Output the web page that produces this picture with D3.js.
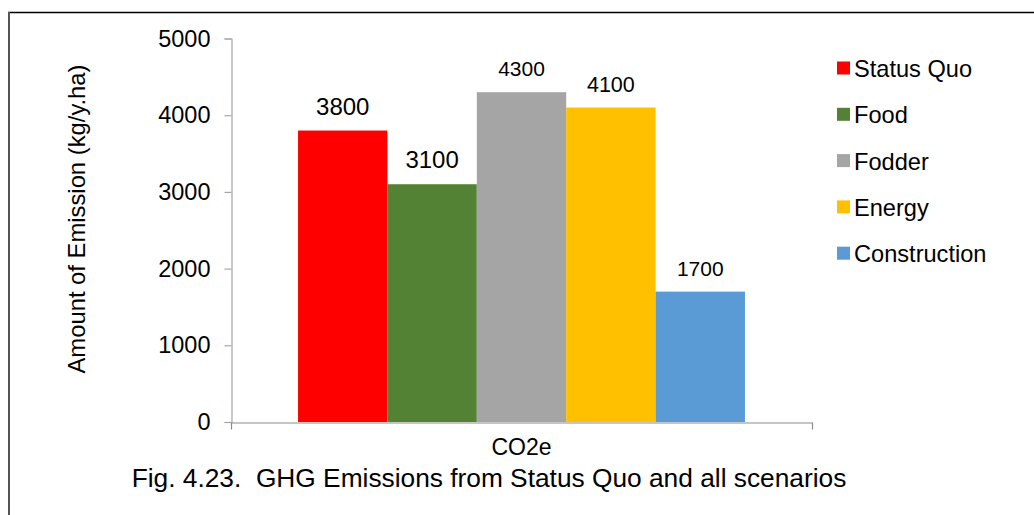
<!DOCTYPE html>
<html>
<head>
<meta charset="utf-8">
<script src="https://cdn.jsdelivr.net/npm/d3@7"></script>
<style>
  html, body { margin: 0; padding: 0; background: #fff; }
  svg { display: block; font-family: "Liberation Sans", Arial, sans-serif; }
  text { white-space: pre; }
</style>
</head>
<body>
<svg id="chart" width="1034" height="515"></svg>
<script>
const categories = ["CO2e"];
const seriesNames = ["Status Quo", "Food", "Fodder", "Energy", "Construction"];
const seriesValues = [3800, 3100, 4300, 4100, 1700];
const seriesColors = ["#FF0000", "#548235", "#A5A5A5", "#FFC000", "#5B9BD5"];
const labelSizes = [24, 24, 21, 21.5, 21];
const yTicks = [0, 1000, 2000, 3000, 4000, 5000];
const yTitle = "Amount of Emission (kg/y.ha)";
const caption = "Fig. 4.23.  GHG Emissions from Status Quo and all scenarios";

const svg = d3.select("#chart");

// frame
svg.append("line").attr("x1", 8).attr("x2", 1034).attr("y1", 12.5).attr("y2", 12.5)
  .attr("stroke", "#000").attr("stroke-width", 1.5);
svg.append("line").attr("x1", 9).attr("x2", 9).attr("y1", 12).attr("y2", 515)
  .attr("stroke", "#555").attr("stroke-width", 2);

const plot = { left: 231, right: 812, top: 38.5, bottom: 422 };

const y = d3.scaleLinear().domain([0, 5000]).range([plot.bottom, plot.top]);
const x0 = d3.scaleBand().domain(categories).range([plot.left, plot.right])
  .paddingInner(0).paddingOuter(0.15);
const x1 = d3.scaleBand().domain(seriesNames).range([0, x0.bandwidth()]);

// y axis
const yAxis = d3.axisLeft(y).tickValues(yTicks).tickSize(7).tickPadding(14).tickFormat(d3.format("d"));
const gy = svg.append("g").attr("transform", `translate(${plot.left + 0.5},0)`).call(yAxis);
gy.select(".domain").attr("stroke", "#A6A6A6").attr("stroke-width", 1.2);
gy.selectAll(".tick line").attr("stroke", "#A6A6A6").attr("stroke-width", 1.2);
gy.selectAll(".tick text").attr("font-size", 23.5).attr("fill", "#000")
  .attr("font-family", "Liberation Sans, Arial, sans-serif");

// bars
const data = seriesNames.map((s, i) => ({ cat: categories[0], name: s, value: seriesValues[i], color: seriesColors[i], fs: labelSizes[i] }));
svg.append("g").selectAll("rect").data(data).join("rect")
  .attr("x", d => x0(d.cat) + x1(d.name))
  .attr("width", x1.bandwidth())
  .attr("y", d => y(d.value))
  .attr("height", d => y(0) - y(d.value))
  .attr("fill", d => d.color);

// value labels
svg.append("g").selectAll("text").data(data).join("text")
  .attr("x", d => x0(d.cat) + x1(d.name) + x1.bandwidth() / 2)
  .attr("y", d => y(d.value) - 16)
  .attr("text-anchor", "middle")
  .attr("font-size", d => d.fs)
  .attr("fill", "#000")
  .text(d => d.value);

// x axis
const xAxis = d3.axisBottom(x0).tickSize(0).tickPadding(16);
const gx = svg.append("g").attr("transform", `translate(0,${plot.bottom + 0.5})`).call(xAxis);
gx.select(".domain").attr("stroke", "#8C8C8C").attr("stroke-width", 1.2);
gx.selectAll(".tick text").attr("font-size", 23).attr("fill", "#000")
  .attr("font-family", "Liberation Sans, Arial, sans-serif");
// end tick marks (category boundaries)
gx.selectAll(".edge").data(x0.range()).join("line").attr("class", "edge")
  .attr("x1", d => d + 0.5).attr("x2", d => d + 0.5).attr("y1", 0).attr("y2", 7)
  .attr("stroke", "#8C8C8C").attr("stroke-width", 1.2);

// y title
svg.append("text")
  .attr("transform", `translate(85,219) rotate(-90)`)
  .attr("text-anchor", "middle")
  .attr("font-size", 23.8)
  .attr("fill", "#000")
  .text(yTitle);

// legend
const leg = svg.append("g").selectAll("g").data(data).join("g")
  .attr("transform", (d, i) => `translate(837,${68 + i * 46.3})`);
leg.append("rect").attr("x", 0).attr("y", -6.5).attr("width", 13).attr("height", 13).attr("fill", d => d.color);
leg.append("text").attr("x", 17).attr("y", 9).attr("font-size", 23.6).attr("fill", "#000").text(d => d.name);

// caption
svg.append("text")
  .attr("x", 489)
  .attr("y", 487)
  .attr("text-anchor", "middle")
  .attr("font-size", 26.3)
  .attr("fill", "#000")
  .text(caption);
</script>
</body>
</html>
